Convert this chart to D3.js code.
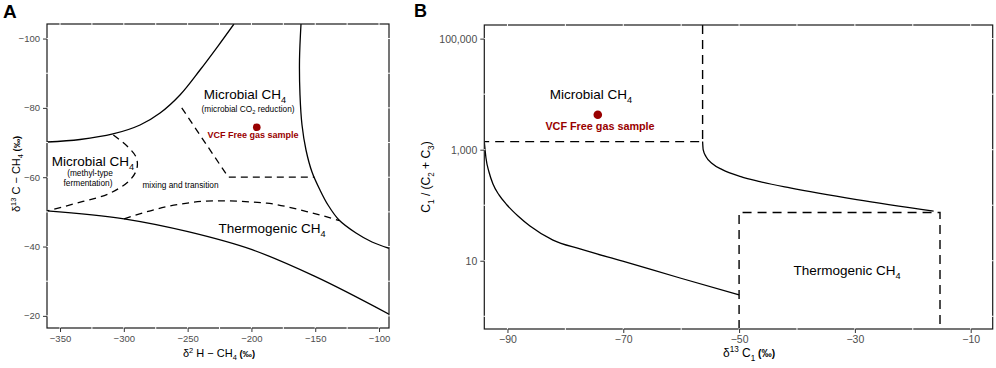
<!DOCTYPE html>
<html lang="en">
<head>
<meta charset="UTF-8">
<title>Methane origin diagrams</title>
<script src="https://d3js.org/d3.v7.min.js"></script>
<style>
  body { margin: 0; background: #fff; font-family: "Liberation Sans", Arial, sans-serif; }
  svg text { font-family: "Liberation Sans", Arial, sans-serif; }
</style>
</head>
<body>
<div id="chart"></div>
<script>
// ---- Panel A data: δ2H-CH4 (x) vs δ13C-CH4 (y) ----
const aXTicks = [-350, -300, -250, -200, -150, -100];
const aYTicks = [-100, -80, -60, -40, -20];
const aXMinor = [-325, -275, -225, -175, -125];
const aYMinor = [-90, -70, -50, -30];

const aMicrobialLeftEdge = [[-360.2, -70.16], [-334.3, -70.88], [-308.5, -72.47], [-287.3, -75.06],
  [-271.6, -78.52], [-256.0, -83.72], [-240.3, -90.93], [-226.2, -97.85], [-213.7, -104.2]];
const aMicrobialRightEdge = [[-161.16, -104.2], [-162.33, -93.81], [-161.94, -83.72], [-160.37, -75.06],
  [-157.24, -67.85], [-152.54, -61.5], [-146.27, -56.31], [-139.99, -51.98], [-131.38, -47.66],
  [-118.05, -43.91], [-105.52, -41.31], [-92.2, -39.5]];
const aThermoEdge = [[-360.2, -50.3], [-299.8, -48.0], [-249.7, -44.3], [-199.5, -39.1],
  [-150.2, -31.4], [-92.2, -20.5]];
const aMethylDash = [[-308.2, -72.2], [-297.5, -69.0], [-290.4, -65.8], [-289.7, -62.6],
  [-295.1, -59.2], [-310.8, -55.4], [-332.0, -53.0], [-360.2, -50.3]];
const aCO2Dash = [[-254.6, -80.0], [-218.1, -60.0], [-150.8, -60.0]];
const aMixDash = [[-299.8, -48.0], [-266.4, -51.5], [-227.2, -53.2], [-188.0, -52.5],
  [-156.7, -50.1], [-131.0, -47.5]];
const aSample = [-195.8, -74.4];

// ---- Panel B data: δ13C1 (x) vs C1/(C2+C3) (y, log) ----
const bXTicks = [-90, -70, -50, -30, -10];
const bXMinor = [-80, -60, -40, -20];
const bYTicks = [10, 1000, 100000];
const bYMinor = [1, 100, 10000];

const bMicrobialBox = [[-56.3, 176000], [-56.3, 1400], [-94, 1400]];
const bThermoBox = [[-50, 0.59], [-50, 74], [-15.3, 74], [-15.3, 0.59]];
const bUpperCurve = [[-56.3, 1400], [-56.2, 1000], [-55.7, 748], [-54.6, 560], [-52.9, 437],
  [-49.7, 327], [-46.4, 266], [-41.2, 205], [-29.7, 126], [-16.4, 78]];
const bLowerCurve = [[-94, 1400], [-93.71, 708], [-93.19, 396], [-92.5, 241], [-91.46, 153],
  [-90.08, 101], [-88.18, 64], [-86.11, 42.3], [-82.14, 23.6], [-77.47, 16.3], [-70.1, 9.8],
  [-60.2, 4.89], [-50.0, 2.42]];
const bSample = [-74.4, 4270];

const red = "#990000";
const W = 996, H = 368;

const svg = d3.select("#chart").append("svg")
  .attr("width", W).attr("height", H);

// rich text helper: parts = [{t, sub, sup, bold, scale}]
function rich(g, x, y, parts, size, opts = {}) {
  const t = g.append("text")
    .attr("x", x).attr("y", y)
    .attr("text-anchor", opts.anchor || "middle")
    .attr("font-size", size)
    .attr("fill", opts.fill || "#000")
    .attr("font-weight", opts.weight || "normal");
  if (opts.rotate) t.attr("transform", `rotate(-90, ${x}, ${y})`);
  let shift = 0;
  parts.forEach(p => {
    let target = 0;
    if (p.sub) target = size * 0.3;
    if (p.sup) target = -size * 0.38;
    const s = t.append("tspan")
      .attr("dy", target - shift)
      .text(p.t);
    if (p.sub || p.sup) s.attr("font-size", size * 0.68);
    if (p.scale) s.attr("font-size", size * p.scale);
    if (p.bold) s.attr("font-weight", "bold");
    shift = target;
  });
  return t;
}

function frame(g, x0, y0, x1, y1, xGrid, yGrid) {
  g.append("rect")
    .attr("x", x0).attr("y", y0)
    .attr("width", x1 - x0).attr("height", y1 - y0)
    .attr("fill", "none").attr("stroke", "#1a1a1a").attr("stroke-width", 1.2);
  // white grid lines show through the frame as small gaps
  xGrid.forEach(x => {
    g.append("line").attr("x1", x).attr("x2", x).attr("y1", y0 - 1).attr("y2", y0 + 1)
      .attr("stroke", "#fff").attr("stroke-width", 1);
    g.append("line").attr("x1", x).attr("x2", x).attr("y1", y1 - 1).attr("y2", y1 + 1)
      .attr("stroke", "#fff").attr("stroke-width", 1);
  });
  yGrid.forEach(y => {
    g.append("line").attr("y1", y).attr("y2", y).attr("x1", x0 - 1).attr("x2", x0 + 1)
      .attr("stroke", "#fff").attr("stroke-width", 1);
    g.append("line").attr("y1", y).attr("y2", y).attr("x1", x1 - 1).attr("x2", x1 + 1)
      .attr("stroke", "#fff").attr("stroke-width", 1);
  });
}

function styleAxis(sel, size) {
  sel.select(".domain").remove();
  sel.selectAll(".tick line").attr("stroke", "#333").attr("stroke-width", 1);
  sel.selectAll(".tick text").attr("fill", "#4d4d4d").attr("font-size", size)
    .attr("font-family", "Liberation Sans, Arial, sans-serif");
}

// ================= Panel A =================
const A = { left: 47, right: 389, top: 24, bottom: 328 };
const xA = d3.scaleLinear().domain([-360.2, -92.2]).range([A.left, A.right]);
const yA = d3.scaleLinear().domain([-104.2, -16.5]).range([A.top, A.bottom]);
const gA = svg.append("g");

gA.append("clipPath").attr("id", "clipA").append("rect")
  .attr("x", A.left).attr("y", A.top).attr("width", A.right - A.left).attr("height", A.bottom - A.top);

const lineA = d3.line().x(d => xA(d[0])).y(d => yA(d[1]));
const curveA = d3.line().x(d => xA(d[0])).y(d => yA(d[1])).curve(d3.curveCatmullRom.alpha(0.5));
const monoA = d3.line().x(d => xA(d[0])).y(d => yA(d[1])).curve(d3.curveMonotoneX);
const plotA = gA.append("g").attr("clip-path", "url(#clipA)");

plotA.append("path").attr("d", curveA(aMicrobialLeftEdge))
  .attr("fill", "none").attr("stroke", "#000").attr("stroke-width", 1.3);
plotA.append("path").attr("d", curveA(aMicrobialRightEdge))
  .attr("fill", "none").attr("stroke", "#000").attr("stroke-width", 1.3);
plotA.append("path").attr("d", monoA(aThermoEdge))
  .attr("fill", "none").attr("stroke", "#000").attr("stroke-width", 1.3);
plotA.append("path").attr("d", curveA(aMethylDash))
  .attr("fill", "none").attr("stroke", "#000").attr("stroke-width", 1.3).attr("stroke-dasharray", "7,5");
plotA.append("path").attr("d", lineA(aCO2Dash))
  .attr("fill", "none").attr("stroke", "#000").attr("stroke-width", 1.3).attr("stroke-dasharray", "7,5");
plotA.append("path").attr("d", monoA(aMixDash))
  .attr("fill", "none").attr("stroke", "#000").attr("stroke-width", 1.3).attr("stroke-dasharray", "7,5");

plotA.append("circle").attr("cx", xA(aSample[0])).attr("cy", yA(aSample[1])).attr("r", 3.8).attr("fill", red);

frame(gA, A.left, A.top, A.right, A.bottom,
  aXTicks.concat(aXMinor).map(xA), aYTicks.concat(aYMinor).map(yA));

gA.append("g").attr("transform", `translate(0,${A.bottom})`)
  .call(d3.axisBottom(xA).tickValues(aXTicks).tickSize(4).tickPadding(3))
  .call(s => styleAxis(s, 9.5));
gA.append("g").attr("transform", `translate(${A.left},0)`)
  .call(d3.axisLeft(yA).tickValues(aYTicks).tickSize(4).tickPadding(3))
  .call(s => styleAxis(s, 9.5));

// labels A
rich(gA, 245, 99, [{ t: "Microbial CH" }, { t: "4", sub: true }], 13.5);
rich(gA, 248, 112, [{ t: "(microbial CO" }, { t: "2", sub: true }, { t: " reduction)" }], 8.3);
gA.append("text").attr("x", 253).attr("y", 138).attr("text-anchor", "middle")
  .attr("font-size", 9).attr("font-weight", "bold").attr("fill", red).text("VCF Free gas sample");
rich(gA, 93, 166, [{ t: "Microbial CH" }, { t: "4", sub: true }], 13.5);
gA.append("text").attr("x", 90).attr("y", 176).attr("text-anchor", "middle").attr("font-size", 8.3).text("(methyl-type");
gA.append("text").attr("x", 88).attr("y", 186).attr("text-anchor", "middle").attr("font-size", 8.3).text("fermentation)");
gA.append("text").attr("x", 180.5).attr("y", 188).attr("text-anchor", "middle").attr("font-size", 8.3).text("mixing and transition");
rich(gA, 272, 233, [{ t: "Thermogenic CH" }, { t: "4", sub: true }], 13.5);

rich(gA, 219, 357, [{ t: "δ" }, { t: "2", sup: true }, { t: " H − CH" }, { t: "4", sub: true }, { t: " (‰)", bold: true, scale: 0.85 }], 11);
rich(gA, 20, 174, [{ t: "δ" }, { t: "13", sup: true }, { t: " C − CH" }, { t: "4", sub: true }, { t: " (‰)", bold: true, scale: 0.85 }], 11, { rotate: true });

gA.append("text").attr("x", 3).attr("y", 18).attr("font-size", 19).attr("font-weight", "bold").text("A");

// ================= Panel B =================
const B = { left: 484.3, right: 992.7, top: 25, bottom: 329 };
const xB = d3.scaleLinear().domain([-94, -6.2]).range([B.left, B.right]);
const yB = d3.scaleLog().domain([0.59, 176000]).range([B.bottom, B.top]);
const gB = svg.append("g");

gB.append("clipPath").attr("id", "clipB").append("rect")
  .attr("x", B.left).attr("y", B.top).attr("width", B.right - B.left).attr("height", B.bottom - B.top);
const plotB = gB.append("g").attr("clip-path", "url(#clipB)");

const lineB = d3.line().x(d => xB(d[0])).y(d => yB(d[1]));
const curveB = d3.line().x(d => xB(d[0])).y(d => yB(d[1])).curve(d3.curveMonotoneX);

plotB.append("path").attr("d", lineB(bMicrobialBox))
  .attr("fill", "none").attr("stroke", "#000").attr("stroke-width", 1.4).attr("stroke-dasharray", "9,6");
plotB.append("path").attr("d", lineB(bThermoBox))
  .attr("fill", "none").attr("stroke", "#000").attr("stroke-width", 1.4).attr("stroke-dasharray", "9,6");
[bUpperCurve, bLowerCurve].forEach(d => {
  plotB.append("path").attr("d", curveB(d))
    .attr("fill", "none").attr("stroke", "#000").attr("stroke-width", 1.3);
});
plotB.append("circle").attr("cx", xB(bSample[0])).attr("cy", yB(bSample[1])).attr("r", 4.3).attr("fill", red);

frame(gB, B.left, B.top, B.right, B.bottom,
  bXTicks.concat(bXMinor).map(xB), bYTicks.concat(bYMinor).map(yB));

gB.append("g").attr("transform", `translate(0,${B.bottom})`)
  .call(d3.axisBottom(xB).tickValues(bXTicks).tickSize(4).tickPadding(3))
  .call(s => styleAxis(s, 10.5));
gB.append("g").attr("transform", `translate(${B.left},0)`)
  .call(d3.axisLeft(yB).tickValues(bYTicks).tickFormat(d3.format(",")).tickSize(4).tickPadding(3))
  .call(s => styleAxis(s, 10.5));

rich(gB, 591, 99, [{ t: "Microbial CH" }, { t: "4", sub: true }], 13.5);
gB.append("text").attr("x", 600).attr("y", 130).attr("text-anchor", "middle")
  .attr("font-size", 10.8).attr("font-weight", "bold").attr("fill", red).text("VCF Free gas sample");
rich(gB, 847, 275, [{ t: "Thermogenic CH" }, { t: "4", sub: true }], 13.5);

rich(gB, 749, 357, [{ t: "δ" }, { t: "13", sup: true }, { t: " C" }, { t: "1", sub: true }, { t: " (‰)", bold: true, scale: 0.85 }], 12);
rich(gB, 430, 177, [{ t: "C" }, { t: "1", sub: true }, { t: " / (C" }, { t: "2", sub: true }, { t: " + C" }, { t: "3", sub: true }, { t: ")" }], 12, { rotate: true });

gB.append("text").attr("x", 414).attr("y", 17).attr("font-size", 18).attr("font-weight", "bold").text("B");
</script>
</body>
</html>
